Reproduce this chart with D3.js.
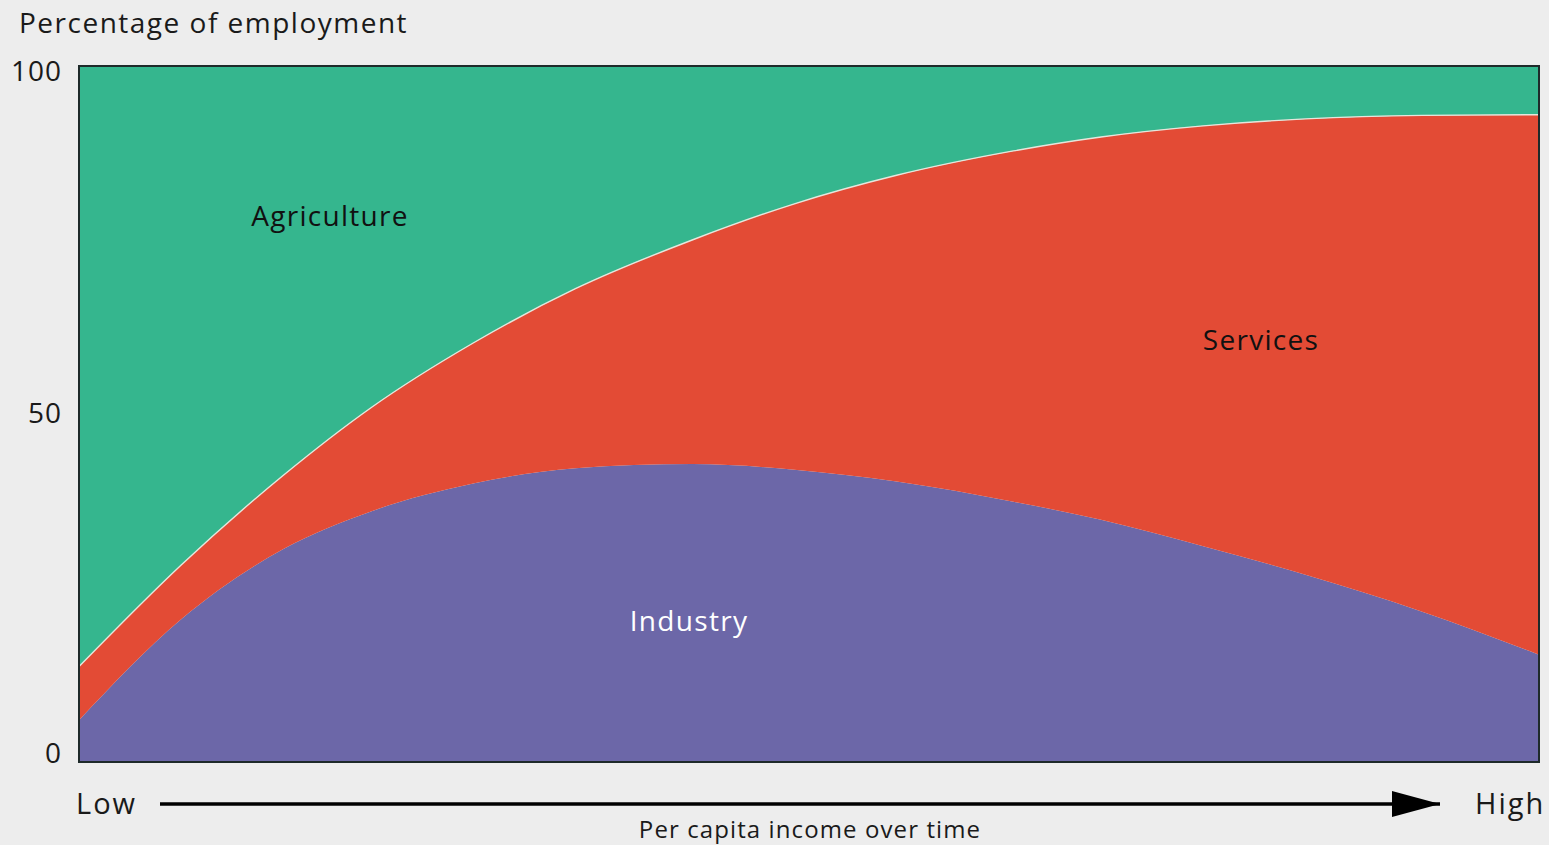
<!DOCTYPE html>
<html>
<head>
<meta charset="utf-8">
<script src="https://cdn.jsdelivr.net/npm/d3@7"></script>
<style>
  html, body { margin: 0; padding: 0; background: #ededed; }
  svg { display: block; }
  text { font-family: "Open Sans", "Noto Sans", sans-serif; }
</style>
</head>
<body>
<svg id="chart" width="1549" height="845"></svg>
<script>
// Income level (Low -> High), arbitrary index 0..100
const income = [0, 7, 14, 20, 27, 34, 42, 49, 56, 64, 70, 77, 84, 92, 100];
// Percentage of employment by sector
const industry    = [6.0, 20.5, 30.6, 36.0, 40.0, 42.2, 42.8, 42.0, 40.3, 37.4, 34.8, 31.0, 26.9, 21.6, 15.4];
const services    = [7.7,  7.8, 10.6, 14.9, 20.2, 25.8, 32.2, 38.2, 44.0, 50.4, 55.0, 60.4, 65.5, 71.3, 77.6];
const agriculture = [86.3, 71.7, 58.8, 49.1, 39.8, 32.0, 25.0, 19.8, 15.7, 12.2, 10.2, 8.6, 7.6, 7.1, 7.0];
const sectors = ["industry", "services", "agriculture"];
const sectorLabels = ["Industry", "Services", "Agriculture"];
const yTicks = [0, 50, 100];

const rows = income.map((v, i) => ({
  income: v,
  industry: industry[i],
  services: services[i],
  agriculture: agriculture[i]
}));

const colors = { industry: "#6c67a8", services: "#e34b35", agriculture: "#35b68e" };

const svg = d3.select("#chart");
const mLeft = 79, mRight = 1539, mTop = 66, mBottom = 762;

const x = d3.scaleLinear().domain([0, 100]).range([mLeft, mRight]);
const y = d3.scaleLinear().domain([0, 100]).range([mBottom, mTop]);

const stack = d3.stack().keys(sectors);
const series = stack(rows);
// agriculture fills to the top
series[2].forEach(d => { d[1] = 100; });

const area = d3.area()
  .curve(d3.curveMonotoneX)
  .x(d => x(d.data.income))
  .y0(d => y(d[0]))
  .y1(d => y(d[1]));

svg.append("g").selectAll("path")
  .data(series)
  .join("path")
  .attr("d", area)
  .attr("fill", d => colors[d.key]);

// light dividing line between agriculture and services
const topLine = d3.line()
  .curve(d3.curveMonotoneX)
  .x(d => x(d.data.income))
  .y(d => y(d[1]));
svg.append("path")
  .attr("d", topLine(series[1]))
  .attr("fill", "none")
  .attr("stroke", "#e6e6dc")
  .attr("stroke-width", 1.4);

// frame
svg.append("rect")
  .attr("x", mLeft).attr("y", mTop)
  .attr("width", mRight - mLeft).attr("height", mBottom - mTop)
  .attr("fill", "none")
  .attr("stroke", "#1e2a2a")
  .attr("stroke-width", 2);

// y axis
const yAxis = d3.axisLeft(y).tickValues(yTicks).tickSize(0).tickPadding(17);
const gy = svg.append("g").attr("transform", `translate(${mLeft},0)`).call(yAxis);
gy.select(".domain").remove();
gy.selectAll("text")
  .attr("font-family", "Open Sans, Noto Sans, sans-serif")
  .attr("font-size", 28)
  .attr("letter-spacing", 1)
  .attr("fill", "#1a1a1a")
  .attr("dy", d => d === 100 ? "0.5em" : d === 0 ? "0.02em" : "0.32em");

// title
svg.append("text")
  .attr("x", 19).attr("y", 33)
  .attr("font-size", 28)
  .attr("letter-spacing", 1.5)
  .attr("fill", "#1a1a1a")
  .text("Percentage of employment");

// sector labels
const labelPos = {
  agriculture: { x: 330, y: 216, fill: "#111" },
  services: { x: 1261, y: 340, fill: "#111" },
  industry: { x: 689, y: 621, fill: "#ffffff" }
};
svg.append("g").selectAll("text")
  .data(sectors)
  .join("text")
  .attr("x", d => labelPos[d].x)
  .attr("y", d => labelPos[d].y)
  .attr("dy", "0.35em")
  .attr("text-anchor", "middle")
  .attr("font-size", 28)
  .attr("letter-spacing", 1.3)
  .attr("fill", d => labelPos[d].fill)
  .text((d, i) => sectorLabels[i]);

// x axis arrow
const defs = svg.append("defs");
defs.append("marker")
  .attr("id", "arrow")
  .attr("viewBox", "0 0 48 26")
  .attr("refX", 48).attr("refY", 13)
  .attr("markerWidth", 48).attr("markerHeight", 26)
  .attr("markerUnits", "userSpaceOnUse")
  .attr("orient", "auto")
  .append("path")
  .attr("d", "M0,0 L48,13 L0,26 Z")
  .attr("fill", "#000");

svg.append("line")
  .attr("x1", 160).attr("x2", 1440)
  .attr("y1", 804).attr("y2", 804)
  .attr("stroke", "#000")
  .attr("stroke-width", 3.5)
  .attr("marker-end", "url(#arrow)");

svg.append("text")
  .attr("x", 76).attr("y", 804).attr("dy", "0.35em")
  .attr("font-size", 29).attr("letter-spacing", 2).attr("fill", "#1a1a1a")
  .text("Low");
svg.append("text")
  .attr("x", 1475).attr("y", 804).attr("dy", "0.35em")
  .attr("font-size", 29).attr("letter-spacing", 2).attr("fill", "#1a1a1a")
  .text("High");
svg.append("text")
  .attr("x", 810).attr("y", 830).attr("dy", "0.35em")
  .attr("text-anchor", "middle")
  .attr("font-size", 24).attr("letter-spacing", 1.1).attr("fill", "#1a1a1a")
  .text("Per capita income over time");
</script>
</body>
</html>
